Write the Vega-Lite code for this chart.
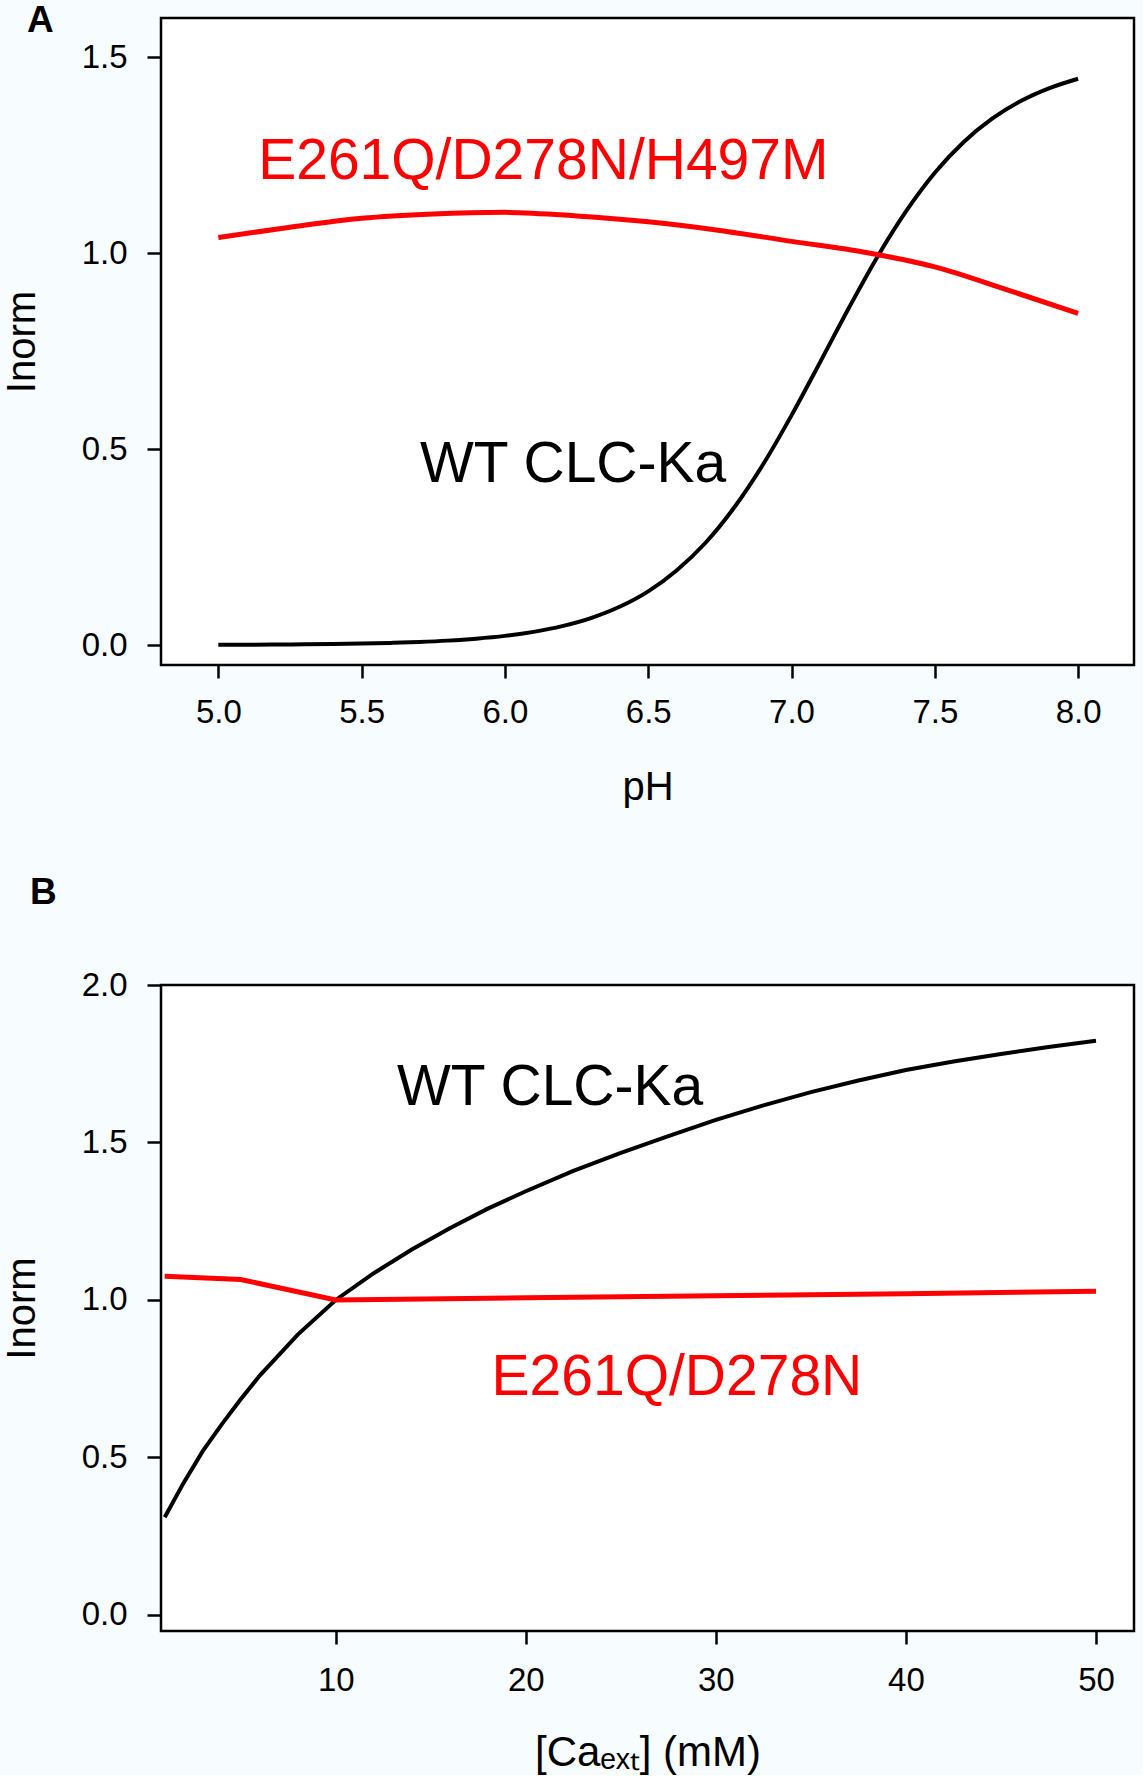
{
  "$schema": "https://vega.github.io/schema/vega-lite/v6.json",
  "background": "#f7fcfe",
  "padding": {"left": 0, "top": 0, "right": 6, "bottom": 0},
  "config": {
    "font": "Liberation Sans",
    "view": {"stroke": "black", "strokeWidth": 2.5, "fill": "white"},
    "axis": {
      "domain": false,
      "grid": false,
      "tickColor": "black",
      "tickWidth": 2.5,
      "tickSize": 13,
      "labelFont": "Liberation Sans",
      "labelFontSize": 33,
      "labelColor": "black",
      "labelPadding": 18,
      "titleFont": "Liberation Sans",
      "titleFontSize": 40,
      "titleFontWeight": "normal",
      "titleColor": "black"
    },
    "axisY": {"titlePadding": 39, "labelPadding": 20, "tickSize": 14},
    "title": {"fontSize": 37, "fontWeight": "bold", "color": "black", "anchor": "start", "frame": "group", "baseline": "alphabetic"}
  },
  "datasets": {
    "ph": [
      {"series": "WT", "pH": 5.0, "Inorm": 0.0006},
      {"series": "WT", "pH": 5.1, "Inorm": 0.0008},
      {"series": "WT", "pH": 5.2, "Inorm": 0.0012},
      {"series": "WT", "pH": 5.3, "Inorm": 0.0018},
      {"series": "WT", "pH": 5.4, "Inorm": 0.0026},
      {"series": "WT", "pH": 5.5, "Inorm": 0.0037},
      {"series": "WT", "pH": 5.6, "Inorm": 0.0054},
      {"series": "WT", "pH": 5.7, "Inorm": 0.0078},
      {"series": "WT", "pH": 5.8, "Inorm": 0.0112},
      {"series": "WT", "pH": 5.9, "Inorm": 0.0162},
      {"series": "WT", "pH": 6.0, "Inorm": 0.0233},
      {"series": "WT", "pH": 6.1, "Inorm": 0.0336},
      {"series": "WT", "pH": 6.2, "Inorm": 0.0481},
      {"series": "WT", "pH": 6.3, "Inorm": 0.0687},
      {"series": "WT", "pH": 6.4, "Inorm": 0.0975},
      {"series": "WT", "pH": 6.5, "Inorm": 0.137},
      {"series": "WT", "pH": 6.6, "Inorm": 0.191},
      {"series": "WT", "pH": 6.7, "Inorm": 0.261},
      {"series": "WT", "pH": 6.8, "Inorm": 0.351},
      {"series": "WT", "pH": 6.9, "Inorm": 0.46},
      {"series": "WT", "pH": 7.0, "Inorm": 0.586},
      {"series": "WT", "pH": 7.1, "Inorm": 0.722},
      {"series": "WT", "pH": 7.2, "Inorm": 0.86},
      {"series": "WT", "pH": 7.3, "Inorm": 0.991},
      {"series": "WT", "pH": 7.4, "Inorm": 1.107},
      {"series": "WT", "pH": 7.5, "Inorm": 1.205},
      {"series": "WT", "pH": 7.6, "Inorm": 1.283},
      {"series": "WT", "pH": 7.7, "Inorm": 1.343},
      {"series": "WT", "pH": 7.8, "Inorm": 1.388},
      {"series": "WT", "pH": 7.9, "Inorm": 1.421},
      {"series": "WT", "pH": 8.0, "Inorm": 1.445},
      {"series": "mut", "pH": 5.0, "Inorm": 1.04},
      {"series": "mut", "pH": 5.25, "Inorm": 1.066},
      {"series": "mut", "pH": 5.5, "Inorm": 1.089},
      {"series": "mut", "pH": 5.75, "Inorm": 1.1},
      {"series": "mut", "pH": 6.0, "Inorm": 1.104},
      {"series": "mut", "pH": 6.25, "Inorm": 1.095},
      {"series": "mut", "pH": 6.5, "Inorm": 1.08},
      {"series": "mut", "pH": 6.75, "Inorm": 1.058},
      {"series": "mut", "pH": 7.0, "Inorm": 1.03},
      {"series": "mut", "pH": 7.25, "Inorm": 1.003},
      {"series": "mut", "pH": 7.5, "Inorm": 0.965},
      {"series": "mut", "pH": 7.75, "Inorm": 0.907},
      {"series": "mut", "pH": 8.0, "Inorm": 0.846}
    ],
    "phLabels": [
      {"series": "mut", "label": "E261Q/D278N/H497M", "pH": 6.134, "Inorm": 1.189},
      {"series": "WT", "label": "WT CLC-Ka", "pH": 6.238, "Inorm": 0.415}
    ],
    "ca": [
      {"series": "WT", "Ca": 1, "Inorm": 0.31},
      {"series": "WT", "Ca": 2, "Inorm": 0.42},
      {"series": "WT", "Ca": 3, "Inorm": 0.52},
      {"series": "WT", "Ca": 4, "Inorm": 0.605},
      {"series": "WT", "Ca": 5, "Inorm": 0.685},
      {"series": "WT", "Ca": 6, "Inorm": 0.76},
      {"series": "WT", "Ca": 8, "Inorm": 0.89},
      {"series": "WT", "Ca": 10, "Inorm": 1.0},
      {"series": "WT", "Ca": 12, "Inorm": 1.085},
      {"series": "WT", "Ca": 14, "Inorm": 1.16},
      {"series": "WT", "Ca": 16, "Inorm": 1.228},
      {"series": "WT", "Ca": 18, "Inorm": 1.29},
      {"series": "WT", "Ca": 20, "Inorm": 1.345},
      {"series": "WT", "Ca": 22.5, "Inorm": 1.41},
      {"series": "WT", "Ca": 25, "Inorm": 1.467},
      {"series": "WT", "Ca": 27.5, "Inorm": 1.52},
      {"series": "WT", "Ca": 30, "Inorm": 1.572},
      {"series": "WT", "Ca": 32.5, "Inorm": 1.618},
      {"series": "WT", "Ca": 35, "Inorm": 1.66},
      {"series": "WT", "Ca": 37.5, "Inorm": 1.697},
      {"series": "WT", "Ca": 40, "Inorm": 1.73},
      {"series": "WT", "Ca": 42.5, "Inorm": 1.757},
      {"series": "WT", "Ca": 45, "Inorm": 1.781},
      {"series": "WT", "Ca": 47.5, "Inorm": 1.803},
      {"series": "WT", "Ca": 50, "Inorm": 1.823},
      {"series": "mut", "Ca": 1, "Inorm": 1.075},
      {"series": "mut", "Ca": 5, "Inorm": 1.065},
      {"series": "mut", "Ca": 10, "Inorm": 1.0},
      {"series": "mut", "Ca": 20, "Inorm": 1.007},
      {"series": "mut", "Ca": 30, "Inorm": 1.013},
      {"series": "mut", "Ca": 40, "Inorm": 1.02},
      {"series": "mut", "Ca": 50, "Inorm": 1.028}
    ],
    "caLabels": [
      {"series": "WT", "label": "WT CLC-Ka", "Ca": 21.28, "Inorm": 1.619},
      {"series": "mut", "label": "E261Q/D278N", "Ca": 27.95, "Inorm": 0.699}
    ]
  },
  "vconcat": [
    {
      "title": {"text": "A", "offset": -22, "dx": -134},
      "width": 973,
      "height": 647,
      "layer": [
        {
          "data": {"name": "ph"},
          "mark": {"type": "line", "interpolate": "monotone"},
          "encoding": {
            "x": {"field": "pH", "type": "quantitative", "scale": {"domain": [4.8, 8.195], "nice": false, "zero": false},
                  "axis": {"values": [5, 5.5, 6, 6.5, 7, 7.5, 8], "format": ".1f", "title": "pH", "titlePadding": 38}},
            "y": {"field": "Inorm", "type": "quantitative", "scale": {"domain": [-0.051, 1.6], "nice": false, "zero": false},
                  "axis": {"values": [0, 0.5, 1, 1.5], "format": ".1f", "title": "Inorm"}},
            "color": {"field": "series", "type": "nominal", "scale": {"domain": ["WT", "mut"], "range": ["black", "#ff0000"]}, "legend": null},
            "strokeWidth": {"field": "series", "type": "nominal", "scale": {"domain": ["WT", "mut"], "range": [4, 5]}, "legend": null},
            "detail": {"field": "series"}
          }
        },
        {
          "data": {"name": "phLabels"},
          "mark": {"type": "text", "fontSize": 57, "align": "center", "baseline": "alphabetic", "font": "Liberation Sans"},
          "encoding": {
            "x": {"field": "pH", "type": "quantitative"},
            "y": {"field": "Inorm", "type": "quantitative"},
            "text": {"field": "label"},
            "color": {"field": "series", "type": "nominal", "scale": {"domain": ["WT", "mut"], "range": ["black", "#ff0000"]}, "legend": null}
          }
        }
      ]
    },
    {
      "title": {"text": "B", "offset": 57, "dx": -131},
      "width": 973,
      "height": 646,
      "layer": [
        {
          "data": {"name": "ca"},
          "mark": {"type": "line"},
          "encoding": {
            "x": {"field": "Ca", "type": "quantitative", "scale": {"domain": [0.805, 52.0], "nice": false, "zero": false},
                  "axis": {"values": [10, 20, 30, 40, 50], "format": "d", "title": "[Caₑₓₜ] (mM)", "titleFontSize": 42, "labelPadding": 20, "titlePadding": 35}},
            "y": {"field": "Inorm", "type": "quantitative", "scale": {"domain": [-0.051, 2.0], "nice": false, "zero": false},
                  "axis": {"values": [0, 0.5, 1, 1.5, 2], "format": ".1f", "title": "Inorm"}},
            "color": {"field": "series", "type": "nominal", "scale": {"domain": ["WT", "mut"], "range": ["black", "#ff0000"]}, "legend": null},
            "strokeWidth": {"field": "series", "type": "nominal", "scale": {"domain": ["WT", "mut"], "range": [4, 4.5]}, "legend": null},
            "detail": {"field": "series"}
          }
        },
        {
          "data": {"name": "caLabels"},
          "mark": {"type": "text", "fontSize": 57, "align": "center", "baseline": "alphabetic", "font": "Liberation Sans"},
          "encoding": {
            "x": {"field": "Ca", "type": "quantitative"},
            "y": {"field": "Inorm", "type": "quantitative"},
            "text": {"field": "label"},
            "color": {"field": "series", "type": "nominal", "scale": {"domain": ["WT", "mut"], "range": ["black", "#ff0000"]}, "legend": null}
          }
        }
      ]
    }
  ],
  "spacing": 63
}
